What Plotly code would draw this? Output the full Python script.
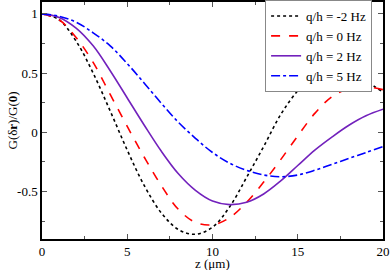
import plotly.graph_objects as go

z = [0, 1, 2, 3, 4, 5, 6, 7, 8, 9, 10, 11, 12, 13, 14, 15, 16, 17, 18, 19, 20]
# q/h = -2 Hz
g_m2 = [1, 0.95, 0.77, 0.50, 0.18, -0.15, -0.45, -0.68, -0.82, -0.86, -0.80, -0.63, -0.38, -0.12, 0.15, 0.35, 0.48, 0.525, 0.50, 0.43, 0.34]
# q/h = 0 Hz
g_0 = [1, 0.95, 0.80, 0.59, 0.32, 0.05, -0.21, -0.45, -0.65, -0.76, -0.78, -0.72, -0.59, -0.42, -0.23, -0.03, 0.16, 0.30, 0.37, 0.385, 0.36]
# q/h = 2 Hz
g_2 = [1, 0.97, 0.88, 0.73, 0.52, 0.29, 0.06, -0.16, -0.35, -0.49, -0.58, -0.61, -0.59, -0.52, -0.41, -0.28, -0.15, -0.04, 0.06, 0.14, 0.195]
# q/h = 5 Hz
g_5 = [1, 0.98, 0.93, 0.84, 0.73, 0.58, 0.415, 0.245, 0.085, -0.05, -0.17, -0.26, -0.32, -0.36, -0.375, -0.36, -0.32, -0.27, -0.22, -0.17, -0.12]

names = ["q/h = -2 Hz", "q/h = 0 Hz", "q/h = 2 Hz", "q/h = 5 Hz"]
xtick_vals = [0, 5, 10, 15, 20]
ytick_vals = [-0.5, 0, 0.5, 1]
ytick_text = ["-0.5", "0", "0.5", "1"]
x_title = "z (μm)"
y_title = "G(δ<b>r</b>)/G(<b>0</b>)"

series = [
    (g_m2, "black", "dot"),
    (g_0, "#ff0000", "dash"),
    (g_2, "#7221bc", "solid"),
    (g_5, "#0000ff", "dashdot"),
]

fig = go.Figure()
for (gg, col, dash), nm in zip(series, names):
    fig.add_trace(go.Scatter(x=z, y=gg, mode="lines", name=nm,
                             line=dict(color=col, dash=dash, width=1.6, shape="spline", smoothing=1.0)))

font = "Liberation Serif"
fig.update_layout(
    width=391, height=270,
    margin=dict(l=42, r=8, t=1, b=31),
    paper_bgcolor="white", plot_bgcolor="white",
    font=dict(family=font, size=13, color="black"),
    showlegend=True,
    legend=dict(x=0.968, y=1.004, xanchor="right", yanchor="top",
                bgcolor="white", bordercolor="#888888", borderwidth=1,
                font=dict(family=font, size=13), itemwidth=30,
                tracegroupgap=0),
)
fig.add_annotation(text=x_title, xref="paper", yref="paper", x=0.5, y=0,
                   yshift=-24, xanchor="center", yanchor="middle", showarrow=False,
                   font=dict(family=font, size=13))
fig.add_annotation(text=y_title, xref="paper", yref="paper", x=0, y=0.5,
                   xshift=-30, xanchor="center", yanchor="middle", textangle=-90, showarrow=False,
                   font=dict(family=font, size=13))
fig.update_xaxes(range=[0, 20], tickvals=xtick_vals, ticks="inside", ticklen=5,
                 tickcolor="#555555", showline=True, linecolor="black", linewidth=1.5,
                 mirror="ticks", showgrid=False, zeroline=False, automargin=False,
                 minor=dict(dtick=2.5, ticks="inside", ticklen=3, tickcolor="#555555", showgrid=False),
                 tickfont=dict(family=font, size=13))
fig.update_yaxes(range=[-0.9, 1.1], tickvals=ytick_vals, ticktext=ytick_text, ticks="inside", ticklen=5,
                 tickcolor="#555555", showline=True, linecolor="black", linewidth=1.5,
                 mirror="ticks", showgrid=False, zeroline=False, automargin=False,
                 minor=dict(dtick=0.25, tick0=0, ticks="inside", ticklen=3, tickcolor="#555555", showgrid=False),
                 tickfont=dict(family=font, size=13))

fig.write_html("out.html", config={"displayModeBar": False},
               post_script="document.body.style.margin='0';document.body.style.padding='0';")
